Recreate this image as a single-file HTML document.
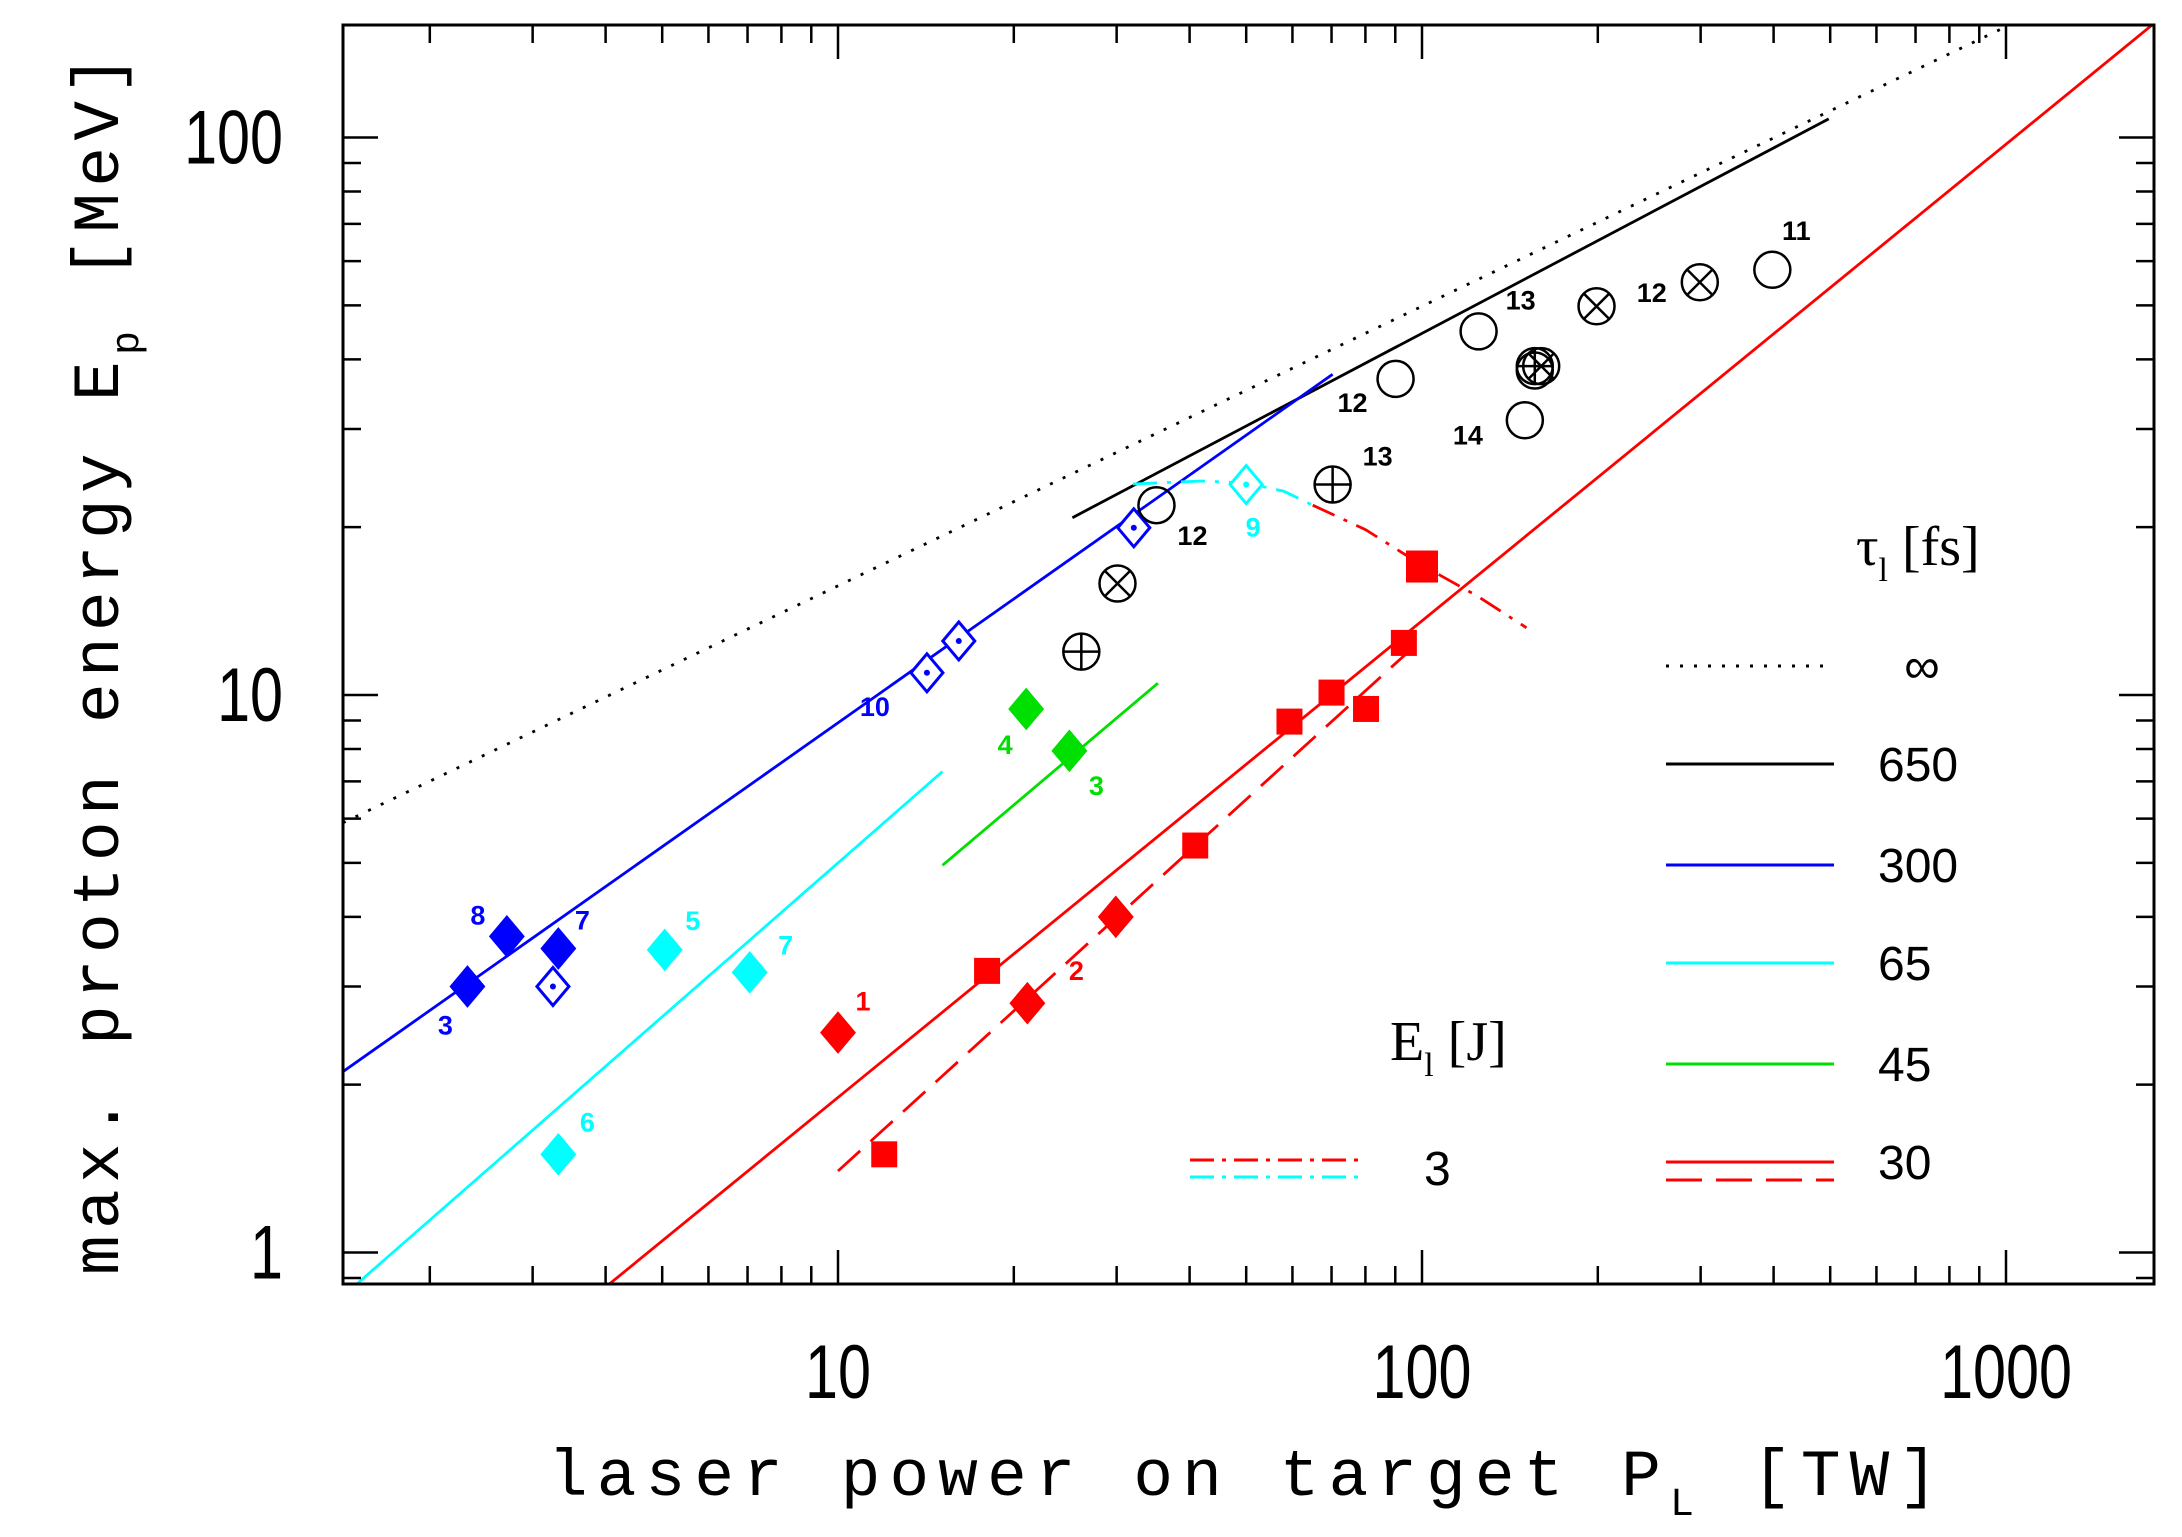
<!DOCTYPE html>
<html><head><meta charset="utf-8"><style>
html,body{margin:0;padding:0;background:#fff;}
svg{display:block;}
</style></head><body>
<svg id="chart" width="2182" height="1537" viewBox="0 0 2182 1537" xmlns="http://www.w3.org/2000/svg">
<rect x="0" y="0" width="2182" height="1537" fill="#fff"/>
<g id="marks"></g>
<rect x="343" y="25" width="1811" height="1259" fill="none" stroke="#000" stroke-width="3"/>
<g id="ticks"></g>
<g id="labels"></g>
<text x="1243" y="1495" font-family="Liberation Mono, monospace" font-size="66" text-anchor="middle" textLength="1390">laser power on target P<tspan font-size="40" dy="20">L</tspan><tspan dy="-20"> [TW]</tspan></text>
<text transform="translate(118,665) rotate(-90)" font-family="Liberation Mono, monospace" font-size="66" text-anchor="middle" textLength="1220">max. proton energy E<tspan font-size="40" dy="20">p</tspan><tspan dy="-20"> [MeV]</tspan></text>
<g id="legend">
<text x="1856" y="565" font-family="Liberation Serif, serif" font-size="56">τ<tspan font-size="34" dy="16">l</tspan><tspan dy="-16"> [fs]</tspan></text>
<text x="1390" y="1060" font-family="Liberation Serif, serif" font-size="56">E<tspan font-size="34" dy="16">l</tspan><tspan dy="-16"> [J]</tspan></text>
</g>
</svg>
<script>
const NS='http://www.w3.org/2000/svg';
// axes
const X0=838, XD=584, Y0=137.5, YD=557.5;
const px=v=>X0+(Math.log10(v)-1)*XD;
const py=v=>Y0+(2-Math.log10(v))*YD;
const pLeft=343,pRight=2154,pTop=25,pBottom=1284;

const xTickLabels=['10','100','1000'];
const xTickValues=[10,100,1000];
const yTickLabels=['1','10','100'];
const yTickValues=[1,10,100];

// model lines [P, E] endpoints
const lineInfP=[1.42,1000];   const lineInfE=[5.9,158];
const line650P=[25.2,497];    const line650E=[20.8,108];
const line300P=[1.42,70.3];   const line300E=[2.11,37.6];
const line65P=[1.5,15.1];     const line65E=[0.878,7.29];
const line45P=[15.1,35.3];    const line45E=[4.95,10.5];
const line30P=[4.06,1790];    const line30E=[0.878,160];
const line30dP=[10,96];       const line30dE=[1.40,12.1];
const curve3cP=[32,42,50,58,65]; const curve3cE=[23.9,24.2,24.0,23.2,21.9];
const curve3rP=[65,80,100,125,151]; const curve3rE=[21.9,19.8,17.1,15.0,13.2];

// data points
const blueFillP=[2.32,2.71,3.32]; const blueFillE=[3.00,3.69,3.51];
const blueOpenP=[3.25,14.2,16.1,32.1]; const blueOpenE=[3.00,10.96,12.5,19.95];
const cyanFillP=[5.05,7.06,3.32]; const cyanFillE=[3.49,3.18,1.50];
const cyanOpenP=[50]; const cyanOpenE=[23.85];
const greenFillP=[21.0,24.9]; const greenFillE=[9.44,7.94];
const redDiaP=[10,21.1,29.9]; const redDiaE=[2.48,2.80,4.0];
const redSqP=[12.0,18.0,40.9,59.3,70.0,80.2,93.1]; const redSqE=[1.50,3.20,5.37,8.96,10.1,9.44,12.4];
const redBigSqP=[100]; const redBigSqE=[17.0];
const circP=[35.1,90.1,125,150,398,156]; const circE=[21.9,36.9,44.9,31.1,57.9,38.2];
const plusP=[26.1,70.3,156]; const plusE=[11.96,23.85,38.9];
const crossP=[30.1,199,299,160]; const crossE=[15.85,49.8,55,38.9];

// annotations
const annP=[2.32,2.71,3.32,14.2,5.05,7.06,3.32,50,21.0,24.9,10,21.1,35.1,90.1,125,150,398,70.3,299];
const annE=[3.00,3.69,3.51,10.96,3.49,3.18,1.50,23.85,9.44,7.94,2.48,2.80,21.9,36.9,44.9,31.1,57.9,23.85,55];
const annText=['3','8','7','10','5','7','6','9','4','3','1','2','12','12','13','14','11','13','12'];
const annColor=['#0000ff','#0000ff','#0000ff','#0000ff','#00ffff','#00ffff','#00ffff','#00ffff','#00e000','#00e000','#ff0000','#ff0000','#000','#000','#000','#000','#000','#000','#000'];
const annDx=[-22,-29,24,-52,28,36,29,7,-21,27,25,49,36,-43,42,-57,24,45,-48];
const annDy=[39,-21,-28,34,-29,-27,-32,43,36,35,-31,-32,31,24,-31,15,-39,-28,11];

const marks=document.getElementById('marks');
const ticksG=document.getElementById('ticks');
const labelsG=document.getElementById('labels');

function mk(tag,attrs,parent){const e=document.createElementNS(NS,tag);for(const k in attrs)e.setAttribute(k,attrs[k]);parent.appendChild(e);return e;}

const defs=mk('defs',{},document.getElementById('chart'));
const clip=mk('clipPath',{id:'pc'},defs);
mk('rect',{x:pLeft,y:pTop,width:pRight-pLeft,height:pBottom-pTop},clip);
marks.setAttribute('clip-path','url(#pc)');

function poly(P,E,color,dash,name){
  const pts=P.map((p,i)=>px(p).toFixed(1)+','+py(E[i]).toFixed(1)).join(' ');
  const e=mk('polyline',{points:pts,fill:'none',stroke:color,'stroke-width':2.8,'stroke-dasharray':dash||'none'},marks);
  
  
}
poly(lineInfP,lineInfE,'#000','3 11','line-tau-infinity');
poly(line650P,line650E,'#000','','line-tau-650');
poly(line300P,line300E,'#0000ff','','line-tau-300');
poly(line65P,line65E,'#00ffff','','line-tau-65');
poly(line45P,line45E,'#00e000','','line-tau-45');
poly(line30P,line30E,'#ff0000','','line-tau-30');
poly(line30dP,line30dE,'#ff0000','30 14','line-tau-30-dashed');
poly(curve3cP,curve3cE,'#00ffff','24 10 4 10','curve-3J-cyan');
poly(curve3rP,curve3rE,'#ff0000','24 10 4 10','curve-3J-red');

function diamond(P,E,color,filled,name){
  P.forEach((p,i)=>{const x=px(p),y=py(E[i]),h=19,w=16;
    const e=mk('polygon',{points:`${x},${y-h} ${x+w},${y} ${x},${y+h} ${x-w},${y}`,fill:filled?color:'#fff',stroke:color,'stroke-width':3},marks);
    
    
    if(!filled){const d=mk('circle',{cx:x,cy:y,r:3,fill:color},marks);
      
      }
  });
}
diamond(blueFillP,blueFillE,'#0000ff',true,'point-blue-filled');
diamond(blueOpenP,blueOpenE,'#0000ff',false,'point-blue-open');
diamond(cyanFillP,cyanFillE,'#00ffff',true,'point-cyan-filled');
diamond(cyanOpenP,cyanOpenE,'#00ffff',false,'point-cyan-open');
diamond(greenFillP,greenFillE,'#00e000',true,'point-green-filled');
diamond(redDiaP,redDiaE,'#ff0000',true,'point-red-diamond');
function square(P,E,s,name){
  P.forEach((p,i)=>{const x=px(p),y=py(E[i]);
    const e=mk('rect',{x:x-s/2,y:y-s/2,width:s,height:s,fill:'#ff0000'},marks);
    
    });
}
square(redSqP,redSqE,26,'point-red-square');
square(redBigSqP,redBigSqE,32,'point-red-square-large');
function circ(P,E,kind,name){
  P.forEach((p,i)=>{const x=px(p),y=py(E[i]),r=18;
    const c=mk('circle',{cx:x,cy:y,r:r,fill:'none',stroke:'#000','stroke-width':2.5},marks);
    
    
    if(kind==='plus'){mk('path',{d:`M${x-r} ${y}H${x+r}M${x} ${y-r}V${y+r}`,stroke:'#000','stroke-width':2.5},marks);}
    if(kind==='cross'){const k=r*0.707;mk('path',{d:`M${x-k} ${y-k}L${x+k} ${y+k}M${x-k} ${y+k}L${x+k} ${y-k}`,stroke:'#000','stroke-width':2.5},marks);}
  });
}
circ(circP,circE,'','point-open-circle');
circ(plusP,plusE,'plus','point-circle-plus');
circ(crossP,crossE,'cross','point-circle-cross');

annText.forEach((t,i)=>{
  const e=mk('text',{x:px(annP[i])+annDx[i],y:py(annE[i])+annDy[i]+9,'text-anchor':'middle','font-family':'Liberation Sans, sans-serif','font-size':27,'font-weight':'bold',fill:annColor[i]},labelsG);
  e.textContent=t;
  
  
});

// ticks
function tk(x1,y1,x2,y2){mk('line',{x1:x1,y1:y1,x2:x2,y2:y2,stroke:'#000','stroke-width':2.5},ticksG);}
for(let d=0;d<=3;d++){for(let m=1;m<10;m++){const v=m*Math.pow(10,d);const x=px(v);
  if(x<pLeft||x>pRight)continue;const L=m===1?34:18;tk(x,pBottom,x,pBottom-L);tk(x,pTop,x,pTop+L);}}
for(let d=-1;d<=2;d++){for(let m=1;m<10;m++){const v=m*Math.pow(10,d);const y=py(v);
  if(y<pTop||y>pBottom)continue;const L=m===1?35:18;tk(pLeft,y,pLeft+L,y);tk(pRight,y,pRight-L,y);}}
xTickValues.forEach((v,i)=>{const xx=px(v);const e=mk('text',{x:xx,y:1398,'text-anchor':'middle','font-family':'Liberation Sans, sans-serif','font-size':76,transform:`translate(${xx},0) scale(0.78,1) translate(${-xx},0)`},labelsG);
  e.textContent=xTickLabels[i];
  
  });
yTickValues.forEach((v,i)=>{const e=mk('text',{x:283,y:py(v)+26,'text-anchor':'end','font-family':'Liberation Sans, sans-serif','font-size':76,transform:'translate(283,0) scale(0.78,1) translate(-283,0)'},labelsG);
  e.textContent=yTickLabels[i];
  
  });

// legend
const leg=document.getElementById('legend');
const legNames=['∞','650','300','65','45','30'];
const legColors=['#000','#000','#0000ff','#00ffff','#00e000','#ff0000'];
const legDash=['3 11','','','','',''];
const legY=[666,764,865,963,1064,1162];
legNames.forEach((n,i)=>{
  const l=mk('line',{x1:1666,y1:legY[i],x2:1834,y2:legY[i],stroke:legColors[i],'stroke-width':3,'stroke-dasharray':legDash[i]||'none'},leg);
  
  
  const t=mk('text',{x:n==='∞'?1922:1878,y:legY[i]+17,'text-anchor':n==='∞'?'middle':'start','font-family':'Liberation Sans, sans-serif','font-size':n==='∞'?50:48},leg);
  t.textContent=n;
  
  
});
const l2=mk('line',{x1:1666,y1:1180,x2:1834,y2:1180,stroke:'#ff0000','stroke-width':3,'stroke-dasharray':'36 14'},leg);


const l3=mk('line',{x1:1190,y1:1160,x2:1365,y2:1160,stroke:'#ff0000','stroke-width':3,'stroke-dasharray':'24 8 4 8'},leg);


const l4=mk('line',{x1:1190,y1:1177,x2:1365,y2:1177,stroke:'#00ffff','stroke-width':3,'stroke-dasharray':'24 8 4 8'},leg);


const t3=mk('text',{x:1424,y:1185,'font-family':'Liberation Sans, sans-serif','font-size':48},leg);
t3.textContent='3';


</script>
</body></html>
